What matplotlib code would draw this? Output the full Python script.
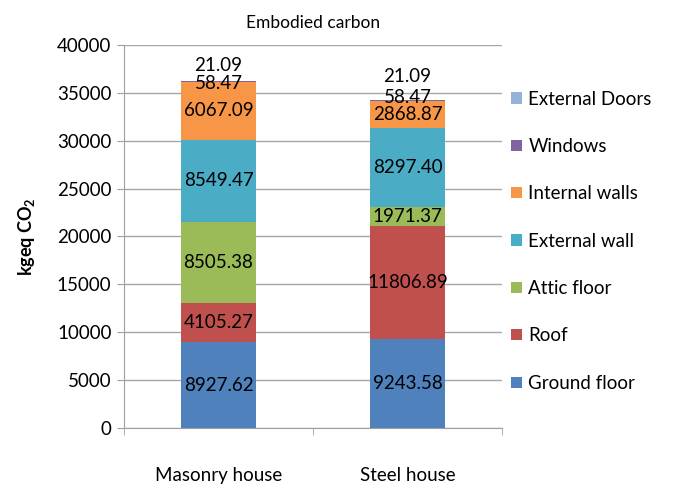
import matplotlib
matplotlib.use("Agg")
import matplotlib.pyplot as plt
import numpy as np

categories = ["Masonry house", "Steel house"]
series = ["Ground floor", "Roof", "Attic floor", "External wall", "Internal walls", "Windows", "External Doors"]
ground_floor = [8927.62, 9243.58]
roof = [4105.27, 11806.89]
attic_floor = [8505.38, 1971.37]
external_wall = [8549.47, 8297.40]
internal_walls = [6067.09, 2868.87]
windows = [58.47, 58.47]
external_doors = [21.09, 21.09]
yticks = [0, 5000, 10000, 15000, 20000, 25000, 30000, 35000, 40000]

colors = ["#4F81BD", "#C0504D", "#9BBB59", "#4BACC6", "#F79646", "#8064A2", "#95B3D7"]
values = [ground_floor, roof, attic_floor, external_wall, internal_walls, windows, external_doors]

plt.rcParams['font.family'] = ['Lato', 'DejaVu Sans']

fig = plt.figure(figsize=(6.74, 4.88), dpi=100)
ax = fig.add_axes([0.184, 0.123, 0.561, 0.785])

FS = 13.5
x = np.arange(len(categories))
bottom = np.zeros(len(categories))
handles = []
win_off = [-1.5, 1.5]
door_off = [11, 17]
for i, (name, vals, c) in enumerate(zip(series, values, colors)):
    vals = np.array(vals)
    b = ax.bar(x, vals, 0.4, bottom=bottom, color=c, label=name, zorder=3)
    handles.append(b)
    for j in range(len(categories)):
        if name == "Windows":
            ax.annotate(f"{vals[j]:.2f}", (x[j], bottom[j] + vals[j]), xytext=(0, win_off[j]),
                        textcoords="offset points", ha="center", va="center", fontsize=FS, zorder=5)
        elif name == "External Doors":
            ax.annotate(f"{vals[j]:.2f}", (x[j], bottom[j] + vals[j]), xytext=(0, door_off[j]),
                        textcoords="offset points", ha="center", va="center", fontsize=FS, zorder=5)
        else:
            ax.text(x[j], bottom[j] + vals[j] / 2, f"{vals[j]:.2f}", ha="center", va="center",
                    fontsize=FS, zorder=5)
    bottom = bottom + vals

ax.set_xlim(-0.5, 1.5)
ax.set_ylim(0, 40000)
ax.set_yticks(yticks)
ax.set_yticklabels([str(v) for v in yticks], fontsize=FS)
ax.set_xticks(x)
ax.set_xticklabels(categories, fontsize=FS)
ax.tick_params(axis="x", length=0, pad=28)
ax.set_xticks([-0.5, 0.5, 1.5], minor=True)
ax.tick_params(axis="x", which="minor", length=5, color="#A0A0A0", direction="out")
ax.tick_params(axis="y", length=5, color="#A0A0A0", direction="out", pad=4)
ax.grid(axis="y", color="#A6A6A6", linewidth=1, zorder=0)
for s in ["top", "right"]:
    ax.spines[s].set_visible(False)
for s in ["left", "bottom"]:
    ax.spines[s].set_color("#A0A0A0")
ax.set_ylabel("kgeq CO$_\\mathregular{2}$", fontsize=13, fontweight="bold", labelpad=14)
ax.set_title("Embodied carbon", fontsize=12.5, pad=12)

leg = ax.legend(handles[::-1], series[::-1], loc="upper left", bbox_to_anchor=(0.99, 0.915),
                frameon=False, fontsize=FS, handlelength=0.55, handleheight=0.55,
                labelspacing=1.62, handletextpad=0.35, borderaxespad=0.3)

fig.savefig("out.png", dpi=100)
